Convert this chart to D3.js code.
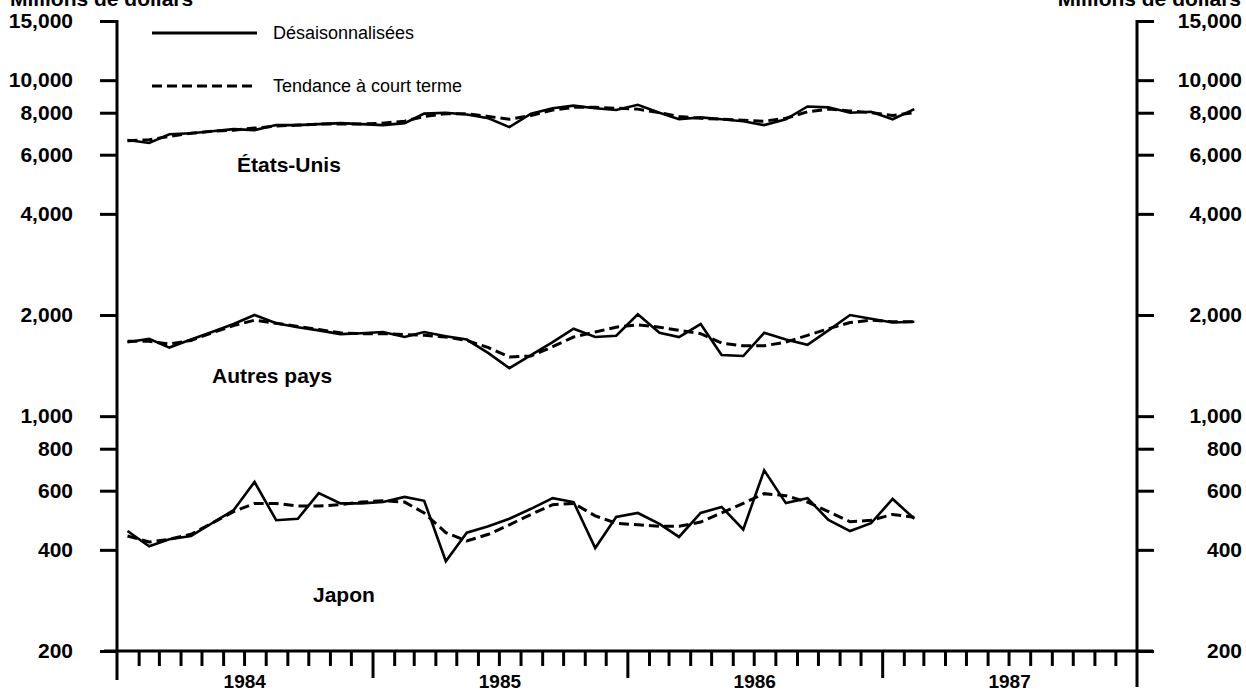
<!DOCTYPE html>
<html>
<head>
<meta charset="utf-8">
<script src="https://cdn.jsdelivr.net/npm/d3@7"></script>
<style>
  html, body { margin: 0; padding: 0; background: #fff; }
  svg { display: block; }
</style>
</head>
<body>
<div id="chart"></div>
<script>
// ── Data (millions de dollars, Jan 1984 – Feb 1987) ──
const YEARS   = [1984, 1985, 1986, 1987];
const Y_TICKS = [200, 400, 600, 800, 1000, 2000, 4000, 6000, 8000, 10000, 15000];

const US_SA = [6640, 6500, 6900, 6950, 7050, 7150, 7100, 7350, 7350, 7400,
               7450, 7400, 7350, 7450, 7950, 8000, 7900, 7700, 7250, 7950,
               8250, 8400, 8250, 8150, 8450, 8000, 7650, 7750, 7650, 7550,
               7350, 7650, 8350, 8300, 8000, 8050, 7650, 8200];
const US_TR = [6600, 6650, 6800, 6950, 7050, 7100, 7200, 7300, 7350, 7400,
               7400, 7400, 7450, 7550, 7800, 7950, 7950, 7800, 7650, 7850,
               8150, 8300, 8300, 8250, 8200, 8000, 7800, 7700, 7650, 7600,
               7550, 7700, 8050, 8200, 8100, 8000, 7850, 8000];

const AUTRES_SA = [1660, 1700, 1600, 1690, 1780, 1880, 2000, 1890, 1840, 1800,
                   1755, 1765, 1780, 1720, 1780, 1730, 1690, 1540, 1390, 1520,
                   1660, 1820, 1720, 1735, 2010, 1770, 1720, 1880, 1520, 1510,
                   1770, 1690, 1630, 1800, 2000, 1950, 1900, 1910];
const AUTRES_TR = [1670, 1670, 1640, 1680, 1770, 1860, 1930, 1890, 1850, 1810,
                   1770, 1760, 1760, 1750, 1740, 1720, 1680, 1600, 1500, 1510,
                   1610, 1720, 1780, 1840, 1870, 1840, 1800, 1760, 1650, 1620,
                   1620, 1660, 1740, 1820, 1900, 1930, 1910, 1910];

const JAPON_SA = [455, 410, 430, 440, 480, 525, 637, 490, 495, 590,
                  550, 550, 555, 575, 560, 370, 450, 470, 495, 530,
                  570, 555, 405, 501, 515, 478, 437, 515, 537, 460,
                  690, 551, 570, 491, 455, 480, 567, 495];
const JAPON_TR = [440, 422, 430, 445, 480, 520, 550, 550, 540, 540,
                  545, 555, 560, 555, 515, 450, 425, 445, 475, 510,
                  545, 550, 505, 480, 475, 470, 470, 484, 515, 550,
                  588, 580, 555, 520, 485, 490, 510, 500];

const SERIES = [
  { name: "États-Unis",  sa: US_SA,     tr: US_TR,     label: [237, 172] },
  { name: "Autres pays", sa: AUTRES_SA, tr: AUTRES_TR, label: [212, 383] },
  { name: "Japon",       sa: JAPON_SA,  tr: JAPON_TR,  label: [313, 602] }
];

// ── Layout ───────────────────────────────────
const W = 1246, H = 694;
const LEFT = 117, RIGHT = 1137, TOP = 21, BOTTOM = 651;
const FONT = "'Liberation Sans', Arial, sans-serif";
const DASH = "10,5";

const svg = d3.select("#chart").append("svg").attr("width", W).attr("height", H);

const months = d3.timeMonth.range(new Date(1984, 0, 1), new Date(1987, 2, 1));
const x = d3.scaleTime()
  .domain([new Date(1984, 0, 1), new Date(1988, 0, 1)])
  .range([LEFT, RIGHT]);
const y = d3.scaleLog().domain([200, 15000]).range([BOTTOM, TOP]);
const mid = m => x(d3.timeDay.offset(m, 15));

// ── Y axes ───────────────────────────────────
const fmt = d3.format(",");
const styleAxis = (gEl) => {
  gEl.select(".domain").remove();
  gEl.selectAll(".tick line").attr("stroke", "#000").attr("stroke-width", 3);
  gEl.selectAll("text").attr("font-family", FONT).attr("font-size", "21px")
    .attr("font-weight", "bold").attr("fill", "#000");
};

svg.append("g").attr("transform", `translate(${LEFT},0)`)
  .call(d3.axisLeft(y).tickValues(Y_TICKS).tickFormat(fmt).tickSize(17).tickPadding(27))
  .call(styleAxis);

svg.append("g").attr("transform", `translate(${RIGHT},0)`)
  .call(d3.axisRight(y).tickValues(Y_TICKS).tickFormat(fmt).tickSize(17))
  .call(styleAxis)
  .call(gEl => gEl.selectAll("text").attr("x", 105).attr("text-anchor", "end"));

// vertical axis lines (run below the baseline)
svg.append("line").attr("x1", LEFT).attr("x2", LEFT).attr("y1", TOP - 1).attr("y2", 680)
  .attr("stroke", "#000").attr("stroke-width", 3);
svg.append("line").attr("x1", RIGHT).attr("x2", RIGHT).attr("y1", TOP - 1).attr("y2", 687)
  .attr("stroke", "#000").attr("stroke-width", 3);

// ── X axis (months + years) ──────────────────
const monthTicks = d3.timeMonth.range(new Date(1984, 0, 1), new Date(1988, 0, 1))
  .filter(d => d.getMonth() !== 0);
const yearTicks = YEARS.slice(1).map(yr => new Date(yr, 0, 1));

svg.append("g").attr("transform", `translate(0,${BOTTOM})`)
  .call(d3.axisBottom(x).tickValues(monthTicks).tickFormat("").tickSize(15))
  .call(gEl => {
    gEl.select(".domain").remove();
    gEl.selectAll(".tick line").attr("stroke", "#000").attr("stroke-width", 3);
  });

svg.append("g").attr("transform", `translate(0,${BOTTOM})`)
  .call(d3.axisBottom(x).tickValues(yearTicks).tickFormat("").tickSize(27))
  .call(gEl => {
    gEl.select(".domain").remove();
    gEl.selectAll(".tick line").attr("stroke", "#000").attr("stroke-width", 3);
  });

svg.append("line").attr("x1", 104).attr("x2", 1153).attr("y1", BOTTOM).attr("y2", BOTTOM)
  .attr("stroke", "#000").attr("stroke-width", 3);

svg.append("g").selectAll("text").data(YEARS).join("text")
  .attr("x", yr => (x(new Date(yr, 0, 1)) + x(new Date(yr + 1, 0, 1))) / 2)
  .attr("y", 688)
  .attr("text-anchor", "middle").attr("font-family", FONT)
  .attr("font-size", "19px").attr("font-weight", "bold")
  .text(yr => yr);

// ── Units ────────────────────────────────────
svg.append("text").attr("x", 10).attr("y", 6)
  .attr("font-family", FONT).attr("font-size", "21px").attr("font-weight", "bold")
  .text("Millions de dollars");
svg.append("text").attr("x", 1241).attr("y", 6).attr("text-anchor", "end")
  .attr("font-family", FONT).attr("font-size", "21px").attr("font-weight", "bold")
  .text("Millions de dollars");

// ── Lines ────────────────────────────────────
const line = d3.line().x((d, i) => mid(months[i])).y(d => y(d));

SERIES.forEach(s => {
  svg.append("path").attr("d", line(s.tr))
    .attr("fill", "none").attr("stroke", "#000").attr("stroke-width", 3)
    .attr("stroke-dasharray", DASH);
  svg.append("path").attr("d", line(s.sa))
    .attr("fill", "none").attr("stroke", "#000").attr("stroke-width", 2.6)
    .attr("stroke-linejoin", "miter");
  svg.append("text").attr("x", s.label[0]).attr("y", s.label[1])
    .attr("font-family", FONT).attr("font-size", "21px").attr("font-weight", "bold")
    .text(s.name);
});

// ── Legend ───────────────────────────────────
const legend = svg.append("g");
[["Désaisonnalisées", null, 33], ["Tendance à court terme", DASH, 86]].forEach(([lab, dash, ly]) => {
  legend.append("line").attr("x1", 152).attr("x2", 257).attr("y1", ly).attr("y2", ly)
    .attr("stroke", "#000").attr("stroke-width", 3)
    .attr("stroke-dasharray", dash);
  legend.append("text").attr("x", 273).attr("y", ly + 6)
    .attr("font-family", FONT).attr("font-size", "18px").attr("fill", "#000")
    .text(lab);
});
</script>
</body>
</html>
